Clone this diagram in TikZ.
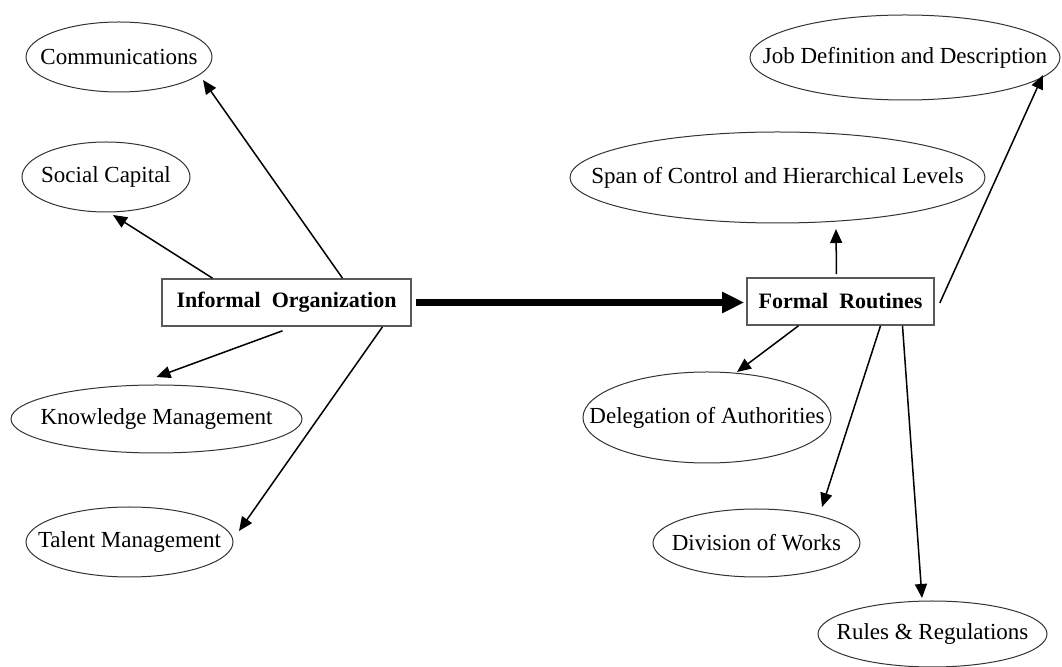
\documentclass[tikz,border=0pt]{standalone}
\usepackage{fontspec}
\setmainfont{Liberation Serif}
\usetikzlibrary{arrows.meta,shapes.geometric}

\begin{document}
\begin{tikzpicture}[x=0.5pt, y=-0.5pt, >={Triangle[length=7pt,width=6pt]},
  font=\fontsize{11.5}{14}\selectfont,
  ell/.style={ellipse, draw=black!80, line width=0.5pt, inner sep=0pt},
  b/.style={rectangle, draw=black!65, line width=0.8pt, inner sep=0pt,
            minimum height=23.5pt, font=\fontsize{11}{13}\selectfont\bfseries},
  arr/.style={->, line width=0.75pt}]
  \useasboundingbox (0,0) rectangle (1062,667);
  \node[b, minimum width=124.5pt] (io) at (286.5,302.5) {Informal\ \ Organization};
  \node[b, minimum width=93.5pt] (fr) at (840.5,301.5) {Formal\ \ Routines};

  \node[ell, minimum width=93pt, minimum height=35pt] (comm) at (119,57)
       {\makebox[0pt]{Communications}};
  \node[ell, minimum width=84pt, minimum height=35pt] (soc) at (106,177)
       {\makebox[0pt]{Social Capital}};
  \node[ell, minimum width=145.5pt, minimum height=34pt] (know) at (156.5,419)
       {\makebox[0pt]{Knowledge Management}};
  \node[ell, minimum width=103.5pt, minimum height=35pt] (tal) at (129.5,542)
       {\makebox[0pt]{Talent Management}};
  \node[ell, minimum width=155pt, minimum height=42.5pt] (job) at (905,57.5)
       {\makebox[0pt]{Job Definition and Description}};
  \node[ell, minimum width=207.5pt, minimum height=45.5pt] (span) at (777.5,177.5)
       {\makebox[0pt]{Span of Control and Hierarchical Levels}};
  \node[ell, minimum width=124pt, minimum height=45.5pt] (dele) at (707,417.5)
       {\makebox[0pt]{Delegation of Authorities}};
  \node[ell, minimum width=103.5pt, minimum height=34pt] (div) at (756.5,543)
       {\makebox[0pt]{Division of Works}};
  \node[ell, minimum width=114.5pt, minimum height=33pt] (rules) at (932.5,634)
       {\makebox[0pt]{Rules \& Regulations}};

  \draw[-{Triangle[length=11pt,width=10pt]}, line width=3.5pt, shorten <=2pt,
        shorten >=1pt] (io.east) -- (io.east -| fr.west);

  \draw[arr] ([xshift=28pt]io.north) -- ([shift={(84,23)}]comm.center);
  \draw[arr] ([xshift=-37pt]io.north) -- ([shift={(7,38)}]soc.center);
  \draw[arr] ([xshift=-2pt,yshift=-2pt]io.south) -- ([shift={(0,-42)}]know.center);
  \draw[arr] ([xshift=48pt]io.south) -- ([shift={(109.5,-11)}]tal.center);

  \draw[arr] ([xshift=-2pt,yshift=1.5pt]fr.north) -- ([shift={(58.5,51.5)}]span.center);
  \draw[arr] ([xshift=2.5pt,yshift=-0.75pt]fr.east) -- ([shift={(138,17.5)}]job.center);
  \draw[arr] ([xshift=-21pt]fr.south) -- ([shift={(30,-45.5)}]dele.center);
  \draw[arr] ([xshift=20pt]fr.south) -- ([shift={(65.5,-36)}]div.center);
  \draw[arr] ([xshift=31pt]fr.south) -- ([shift={(-10.5,-36)}]rules.center);
\end{tikzpicture}
\end{document}
